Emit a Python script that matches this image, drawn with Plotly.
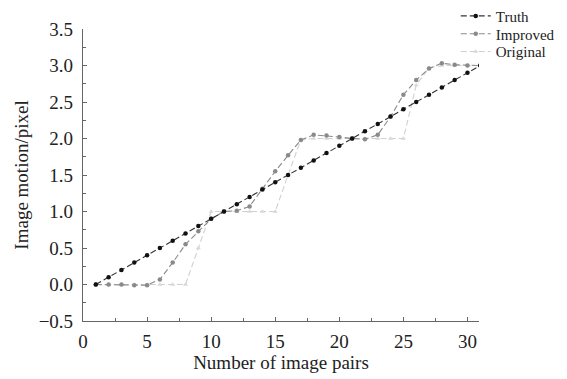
import plotly.graph_objects as go

x_pairs = list(range(1, 32))
truth = [0.0, 0.1, 0.2, 0.3, 0.4, 0.5, 0.6, 0.7, 0.8, 0.9, 1.0, 1.1, 1.2, 1.3, 1.4, 1.5,
         1.6, 1.7, 1.8, 1.9, 2.0, 2.1, 2.2, 2.3, 2.4, 2.5, 2.6, 2.7, 2.8, 2.9, 3.0]
improved = [0.0, 0.0, 0.0, -0.01, -0.01, 0.07, 0.30, 0.55, 0.73, 0.90, 1.0, 1.01, 1.07, 1.31,
            1.55, 1.77, 1.98, 2.05, 2.04, 2.02, 2.0, 1.99, 2.05, 2.30, 2.60, 2.80, 2.96, 3.03,
            3.01, 3.0, 3.0]
original = [0.0, 0.0, 0.0, 0.0, 0.0, 0.0, 0.0, 0.0, 0.5, 1.0, 1.0, 1.0, 1.0, 1.0, 1.0, 1.5,
            1.98, 2.0, 2.0, 2.0, 2.0, 2.0, 2.0, 2.0, 2.0, 2.73, 2.97, 3.0, 3.0, 3.0, 3.0]

x_ticks = [0, 5, 10, 15, 20, 25, 30]
y_ticks = [-0.5, 0.0, 0.5, 1.0, 1.5, 2.0, 2.5, 3.0, 3.5]
y_tick_text = ["\u22120.5", "0.0", "0.5", "1.0", "1.5", "2.0", "2.5", "3.0", "3.5"]

FONT = "Liberation Serif, Times New Roman, serif"

fig = go.Figure()
fig.add_trace(go.Scatter(x=x_pairs, y=original, name="Original", mode="lines+markers",
                         legend="legend3",
                         line=dict(color="#d0d0d0", width=1.1, dash="6px,3px"),
                         marker=dict(symbol="triangle-up", size=4.5, color="#d8d8d8")))
fig.add_trace(go.Scatter(x=x_pairs, y=improved, name="Improved", mode="lines+markers",
                         legend="legend2",
                         line=dict(color="#8a8a8a", width=1.1, dash="6px,3px"),
                         marker=dict(symbol="circle", size=4.5, color="#8a8a8a")))
fig.add_trace(go.Scatter(x=x_pairs, y=truth, name="Truth", mode="lines+markers",
                         legend="legend",
                         line=dict(color="#333333", width=1.1, dash="6px,3px"),
                         marker=dict(symbol="circle", size=4.5, color="#111111")))

axis_common = dict(showline=True, linecolor="#666666", linewidth=1.2, ticks="inside",
                   ticklen=4, tickcolor="#666666", showgrid=False, zeroline=False,
                   tickfont=dict(family=FONT, size=19, color="#222"), mirror=False,
                   automargin=False)

legend_common = dict(xref="container", yref="container", x=0.801, xanchor="left",
                     yanchor="middle", font=dict(family=FONT, size=15, color="#222"),
                     bgcolor="rgba(0,0,0,0)", itemwidth=30)

# page body has an 8px default margin, so the figure is sized to fit the window
fig.update_layout(
    width=559, height=371,
    margin=dict(l=75, r=88, t=21, b=58, autoexpand=False),
    paper_bgcolor="white", plot_bgcolor="white",
    font=dict(family=FONT, color="#222"),
    xaxis=dict(range=[0, 30.9], tickvals=x_ticks, ticklabelstandoff=3,
               minor=dict(tickvals=[2.5, 7.5, 12.5, 17.5, 22.5, 27.5], ticks="inside",
                          ticklen=3, tickcolor="#666666"),
               title=dict(text="Number of image pairs", font=dict(family=FONT, size=19), standoff=0),
               **axis_common),
    yaxis=dict(range=[-0.5, 3.5], tickvals=y_ticks, ticktext=y_tick_text, ticklabelstandoff=5,
               minor=dict(tickvals=[-0.25, 0.25, 0.75, 1.25, 1.75, 2.25, 2.75, 3.25],
                          ticks="inside", ticklen=3, tickcolor="#666666"),
               title=dict(text="Image motion/pixel", font=dict(family=FONT, size=19), standoff=4),
               **axis_common),
    legend=dict(y=0.978, **legend_common),
    legend2=dict(y=0.930, **legend_common),
    legend3=dict(y=0.882, **legend_common),
    showlegend=True,
)

fig.write_html("out.html")
